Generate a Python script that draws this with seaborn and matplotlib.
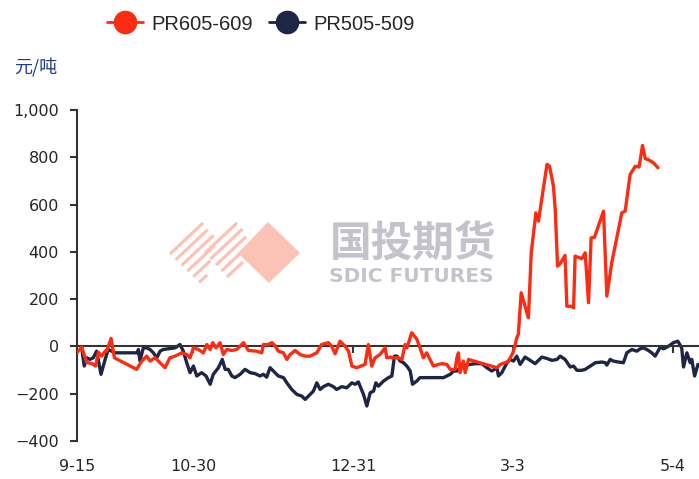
import matplotlib
matplotlib.use("Agg")
from matplotlib import pyplot as plt
from matplotlib.lines import Line2D
from matplotlib.patches import Polygon
from matplotlib.ticker import FuncFormatter
import seaborn as sns

# day offsets counted from 9-15
red_days = [0, 1.8, 3.8, 5.7, 7.2, 8.3, 9.6, 10.9, 11.5, 13.2, 14.5, 23.1, 25.1, 27, 28.3, 30.2,
            32.2, 34.1, 36, 38, 40.6, 42.5, 43.8, 45.1, 47, 49, 50.3, 51.6, 52.6, 53.9, 55.4,
            56.7, 58, 60, 61.9, 63.2, 64.5, 66.4, 69.7, 71.6, 72.2, 74.1, 75.5, 76.7, 78, 80,
            81.3, 82.6, 84.5, 86.4, 88.4, 90.3, 91.6, 92.9, 94.8, 97.4, 98.7, 100, 101.9, 103.9,
            105.2, 106.5, 108.4, 111.6, 112.9, 114.2, 115.5, 117.4, 119.4, 120, 121.3, 122.6,
            124.5, 125.9, 127.1, 127.8, 129.7, 131.7, 132.9, 134.2, 135.5, 136.8, 138.1, 140,
            141.4, 143.3, 144.6, 146.5, 147.2, 147.8, 148.4, 149.7, 150.4, 151.7, 162.7, 164,
            165.9, 167.2, 168.9, 169.8, 170.4, 171, 172.1, 174.9, 176, 177.8, 178.8, 182.1,
            183.1, 184.6, 185.3, 186.2, 187.2, 189.1, 189.8, 191.5, 192.4, 193, 195.6, 196.9,
            198.2, 199.2, 200.5, 204, 205.3, 207.2, 211.1, 212.4, 214.3, 216.3, 217.8, 219.1,
            220.2, 221.4, 223.4, 225.1]
red_vals = [-27, -3, -68, -72, -83, -25, -41, -20, -20, 34, -48, -97, -62, -41, -62, -48,
            -69, -90, -48, -41, -27, -34, -48, -6, -13, -27, 8, -13, 16, -6, 16,
            -34, -13, -17, -13, 1, 16, -17, -20, -27, 8, 8, 16, 4, -20, -27,
            -55, -34, -17, -34, -41, -41, -34, -27, 8, 16, 1, -31, 22, 1,
            -20, -83, -90, -76, 8, -83, -48, -34, -6, -48, -45, -48,
            -48, -55, 8, -6, 58, 30, -6, -48, -27, -55, -83, -76,
            -73, -76, -97, -97, -48, -27, -111, -62, -111, -55, -90, -76,
            -69, -62, -27, 8, 37, 51, 227, 121, 396, 565, 530, 770,
            762, 678, 579, 340, 350, 385, 170, 170, 163, 382, 371, 396,
            185, 459, 462, 572, 213, 354, 565, 572, 727, 762, 759, 850,
            794, 790, 776, 756]

navy_days = [1.8, 2.8, 3.8, 5, 6.3, 7.6, 9.3, 10.9, 12.1, 13.4, 14.7, 23.3, 23.8, 24.4, 25.7,
             27, 28.3, 29.6, 30.9, 32.2, 33.4, 36.7, 38, 39.9, 41.2, 42.5, 43.8, 45.1, 46.4,
             48.3, 50, 51.6, 52.8, 54.8, 56.3, 57.4, 58.6, 60, 61.2, 63.2, 65.1, 67.1, 69,
             70.9, 72.2, 73.5, 74.8, 76.1, 78, 80, 81.3, 83.2, 85.2, 87.1, 88.4, 89.7, 91.6,
             92.9, 94.2, 95.5, 97.4, 99.3, 100.6, 102.6, 104.5, 106.5, 107.8, 109, 111, 112.3,
             113.6, 114.9, 115.8, 116.8, 118.7, 120.7, 122, 123, 124, 125.2, 126.5, 127.8,
             129.1, 130, 131.7, 132.9, 134.9, 142, 143.3, 144.6, 145.9, 147.2, 148.4, 150.4,
             152.3, 154.3, 156.9, 158.8, 160.7, 162.7, 163.3, 164.6, 166.6, 167.8, 169.1,
             170.4, 171.7, 173.6, 175.6, 177.5, 178.8, 180.1, 182.1, 184, 186, 187.2, 189.1,
             191.1, 192.4, 193.7, 195.6, 196.9, 198.9, 200.8, 203.4, 204.7, 205.3, 206.6,
             207.8, 209.8, 211.7, 212.4, 213, 215, 216.9, 218.2, 219.5, 220.8, 222.7, 224,
             226, 227.3, 229.2, 231.1, 232.8, 234.3, 235, 236.3, 237.6, 238.2, 239.3, 240.6]
navy_vals = [-4, -83, -48, -55, -48, -20, -118, -55, -13, -20, -27, -27, -13, -62, -6,
             -6, -13, -27, -48, -20, -13, -8, -6, 8, -20, -69, -111, -83, -125,
             -111, -125, -160, -118, -90, -55, -97, -97, -125, -132, -118, -97, -111, -115,
             -125, -118, -130, -90, -104, -125, -132, -154, -182, -203, -210, -224, -210, -189,
             -154, -182, -170, -160, -170, -182, -170, -175, -154, -160, -150, -203, -252,
             -196, -189, -154, -168, -147, -132, -125, -41, -41, -62, -69, -83,
             -104, -160, -146, -132, -132, -132, -125, -118, -104, -104, -90, -79,
             -76, -73, -73, -90, -104, -90, -125, -111, -69, -55, -62,
             -41, -76, -45, -59, -73, -59, -45, -51, -59, -55, -41, -55,
             -87, -83, -101, -101, -97, -83, -69, -66, -69, -79, -55,
             -62, -66, -69, -48, -27, -13, -20, -10, -6, -13, -27, -41,
             -3, -10, 1, 16, 22, -6, -87, -27, -69, -55, -125, -76]

tick_days = [0, 45, 107, 169, 231]
tick_labels = ['9-15', '10-30', '12-31', '3-3', '5-4']
series_names = ['PR605-609', 'PR505-509']
colors = ['#fc2c12', '#1e2546']

sns.set_style('white')
plt.rcParams['font.family'] = ['DejaVu Sans']

fig = plt.figure(figsize=(6.99, 4.79), dpi=100)
ax = fig.add_axes([77 / 699, 1 - 441 / 479, 622 / 699, 331 / 479])

# watermark logo (figure pixel positions)
wm = fig.transFigure
def px(x, y):
    return (x / 699, 1 - y / 479)

pink = '#fbc2b6'
def stripe(x0, y0, dx):
    a, b = px(x0, y0), px(x0 + dx, y0 - 0.94 * dx)
    fig.add_artist(Line2D([a[0], b[0]], [a[1], b[1]], transform=wm, color=pink,
                          lw=2.3, solid_capstyle='butt', zorder=0))

for i, dx in enumerate([33, 32, 32, 27, 17, 8]):
    stripe(170 + 5.8 * i, 254 + 5.7 * i, dx)
for j, dx in enumerate([32, 32, 30, 24, 16]):
    stripe(205 + 5.5 * j, 253 + 6 * j, dx)
fig.patches.append(Polygon([px(268, 222), px(300, 253), px(269, 283), px(238, 253)],
                           closed=True, transform=wm, facecolor=pink, edgecolor='none', zorder=0))
fig.text(413 / 699, 1 - 244 / 479, '国投期货', transform=wm, ha='center', va='center',
         fontsize=30, color='#c3c4cb', family=['Noto Sans CJK SC'], fontweight='bold', zorder=0)
fig.text(411 / 699, 1 - 276 / 479, 'SDIC FUTURES', transform=wm, ha='center', va='center',
         fontsize=14.5, color='#c3c4cb', fontweight='bold', zorder=0)
ax.set_facecolor('none')

sns.lineplot(x=red_days, y=red_vals, ax=ax, color=colors[0], lw=2.4, label=series_names[0], zorder=3)
sns.lineplot(x=navy_days, y=navy_vals, ax=ax, color=colors[1], lw=2.4, label=series_names[1], zorder=2)
ax.get_legend().remove()

ax.set_xlim(0, 241)
ax.set_ylim(-400, 1000)
ax.set_yticks(range(-400, 1001, 200))
ax.yaxis.set_major_formatter(FuncFormatter(lambda v, p: f'{v:,.0f}'.replace('-', '\u2212')))
ax.set_xticks(tick_days)
ax.set_xticklabels(tick_labels)

for s in ['top', 'right']:
    ax.spines[s].set_visible(False)
for s in ['left', 'bottom']:
    ax.spines[s].set_color('#333333')
    ax.spines[s].set_linewidth(1.5)
ax.spines['bottom'].set_position(('data', 0))
ax.tick_params(axis='y', length=5, width=1.5, color='#333333', labelsize=11.5, pad=8, left=True)
ax.tick_params(axis='x', length=5, width=1.5, color='#333333', labelsize=11.5, pad=76, bottom=True)
ax.set_xlabel('')
ax.set_ylabel('')

fig.text(14 / 699, 1 - 67 / 479, '元/吨', ha='left', va='center', fontsize=13,
         color='#1d3c8f', family=['Noto Sans CJK SC', 'DejaVu Sans'])

handles = [Line2D([], [], color=c, lw=2, marker='o', markersize=16) for c in colors]
fig.legend(handles, series_names, loc='center', bbox_to_anchor=(261 / 699, 1 - 24 / 479),
           ncol=2, frameon=False, handlelength=1.8, columnspacing=0.8, handletextpad=0.4,
           prop={'family': ['Liberation Sans', 'DejaVu Sans'], 'size': 14.5})

fig.savefig('out.png', dpi=100)
plt.close(fig)
